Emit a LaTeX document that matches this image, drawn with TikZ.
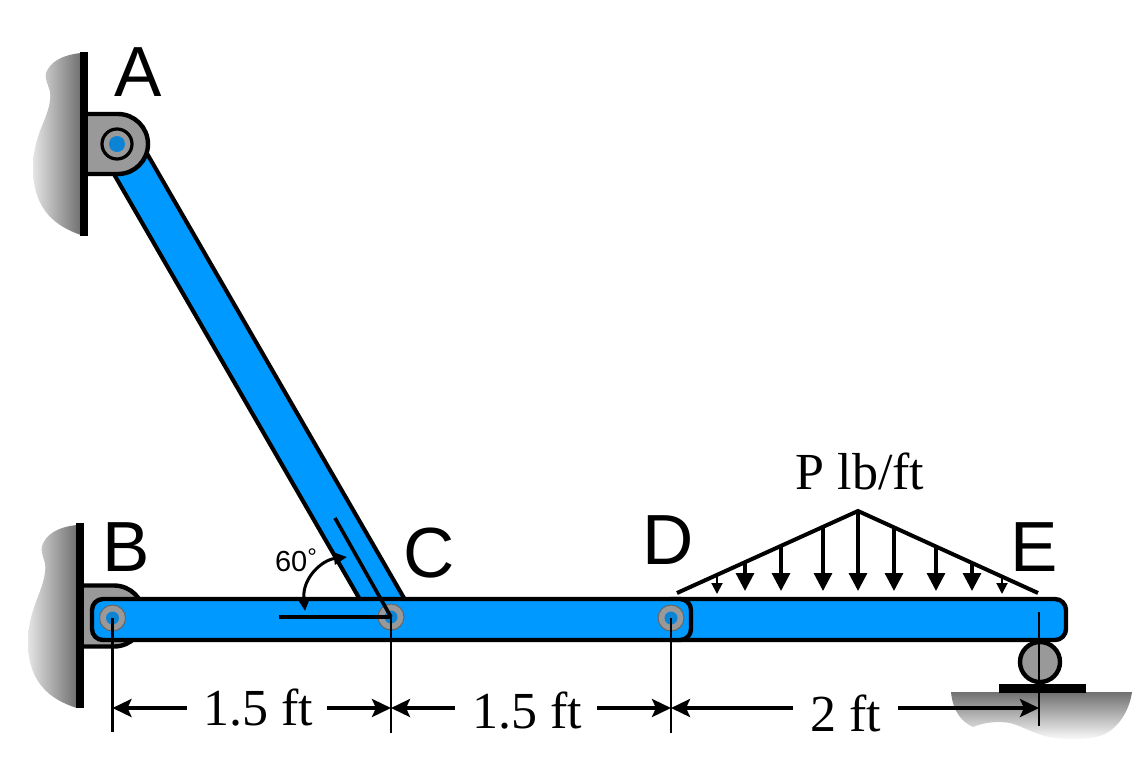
\documentclass[tikz,border=0pt]{standalone}
\usepackage{fontspec}
\setmainfont{Liberation Serif}
\newfontfamily\arialfont{Liberation Sans}
\usetikzlibrary{arrows.meta,calc}
\definecolor{linkblue}{HTML}{0099FF}
\definecolor{pinblue}{HTML}{0C84D6}
\definecolor{partgray}{HTML}{999999}
\definecolor{walldark}{HTML}{707070}
\definecolor{walllight}{HTML}{E4E4E4}
\tikzset{
  wallshade/.style={left color=walllight,right color=walldark,draw=none},
  groundshade/.style={top color=walldark,bottom color=white,draw=none},
  wallbar/.style={fill=black,draw=none},
  bracket/.style={fill=partgray,draw=black,line width=4.4pt,rounded corners=30pt},
  beam/.style={fill=linkblue,draw=black,line width=4.4pt,rounded corners=11pt},
  pinouter/.style={circle,minimum size=26pt,inner sep=0pt,fill=partgray,draw=black!60,line width=1pt},
  pinblack/.style={circle,minimum size=30pt,inner sep=0pt,fill=partgray,draw=black,line width=3.2pt},
  pindot/.style={circle,minimum size=13pt,inner sep=0pt,fill=pinblue,draw=none},
  tick/.style={draw=black,line width=2.2pt},
  refline/.style={draw=black,line width=3.6pt},
  dimarrow/.style={draw=black,line width=3.6pt,-{Stealth[length=19pt,width=18pt,inset=4pt]}},
  loadline/.style={draw=black,line width=4pt},
  loadbig/.style={draw=black,line width=3.2pt,-{Triangle[length=18pt,width=18pt]}},
  loadsmall/.style={draw=black,line width=2pt,-{Triangle[length=11pt,width=11pt]}},
  anglearc/.style={draw=black,line width=3pt,{Triangle[length=13pt,width=12pt]}-{Triangle[length=13pt,width=12pt]}},
  bigletter/.style={font=\arialfont\fontsize{71}{71}\selectfont,inner sep=0pt,anchor=base},
  dimtext/.style={font=\fontsize{52}{52}\selectfont,inner sep=0pt,anchor=base},
  smalltext/.style={font=\arialfont\fontsize{29}{29}\selectfont,inner sep=0pt,anchor=base}
}
\begin{document}
\begin{tikzpicture}[x=1pt,y=-1pt]
\useasboundingbox (0,0) rectangle (1148,774);
\fill[white] (0,0) rectangle (1148,774);
% key points
\coordinate (A) at (117,144);
\coordinate (B) at (112.5,618);
\coordinate (C) at (391,617);
\coordinate (D) at (671,618);
\coordinate (E) at (1039,618);
\coordinate (linkA) at (119,144);
\coordinate (linkC) at (392.5,617);
% walls
\path[wallshade] (81,53) .. controls (62,55) and (50,62) .. (46,73) .. controls (44,82) and (52,88) .. (50,100) .. controls (48,120) and (33,135) .. (33,168) .. controls (33,195) and (42,222) .. (81,235) -- cycle;
\path[wallshade] (77,525) .. controls (58,527) and (46,534) .. (42,546) .. controls (40,556) and (47,560) .. (45,572) .. controls (43,592) and (28,610) .. (28,642) .. controls (28,670) and (38,696) .. (77,708) -- cycle;
\path[groundshade] (951,692) .. controls (953,712) and (962,722) .. (973,727) .. controls (985,722) and (998,721) .. (1010,723) .. controls (1022,726) and (1030,732) .. (1045,736) .. controls (1060,740) and (1085,741) .. (1103,735) .. controls (1118,728) and (1129,712) .. (1132,692) -- cycle;
\path[wallbar] (79.5,52) rectangle (88,236);
\path[wallbar] (76,523) rectangle (84,708);
% bracket at B
\draw[bracket] (84,585.5) -- (144,585.5) -- (144,646.5) -- (84,646.5);
% link AC
\draw[black,line width=43pt] (linkA) -- (linkC);
\draw[linkblue,line width=34.5pt] (linkA) -- (linkC);
% bracket at A
\draw[bracket] (88,114) -- (148,114) -- (148,174) -- (88,174);
\node[pinblack] (pinA) at (A) {};
\node[pindot,minimum size=16pt] (dotA) at (A) {};
% roller and plate
\node[circle,minimum size=40pt,inner sep=0pt,fill=partgray,draw=black,line width=4.4pt] (roller) at (1040,662) {};
\path[wallbar] (999,684) rectangle (1086,693);
% beams
\draw[beam] (660,599) rectangle (1066,640);
\draw[beam] (92,599) rectangle (691,640);
% pins
\foreach \p in {B,C,D}{
  \node[pinouter] (pin\p) at (\p) {};
  \node[pindot] (dot\p) at (\p) {};
}
% reference lines for the angle
\coordinate (hEnd) at (279,617);
\coordinate (iEnd) at (335,518);
\draw[refline] (hEnd) -- (C);
\draw[refline] (iEnd) -- (C);
\coordinate (arcT) at (347,557);
\coordinate (arcB) at (305,611);
\draw[anglearc] (arcT) .. controls (322,560) and (302,578) .. (arcB);
% dimension ticks
\coordinate (Bt) at (112.5,732);
\coordinate (Ct) at (391,733);
\coordinate (Dt) at (671,733);
\coordinate (Et) at (1039,726);
\coordinate (Es) at (1039,612);
\draw[tick] (B) -- (Bt);
\draw[tick] (C) -- (Ct);
\draw[tick] (D) -- (Dt);
\draw[tick] (Es) -- (Et);
% dimension arrows
\coordinate (dB) at (112.5,708); \coordinate (dC) at (391,708);
\coordinate (dD) at (671,708); \coordinate (dE) at (1039,708);
\coordinate (d1) at (187,708); \coordinate (d2) at (327,708);
\coordinate (d3) at (455,708); \coordinate (d4) at (597,708);
\coordinate (d5) at (793,708); \coordinate (d6) at (898,708);
\draw[dimarrow] (d1) -- (dB);
\draw[dimarrow] (d2) -- (dC);
\draw[dimarrow] (d3) -- (dC);
\draw[dimarrow] (d4) -- (dD);
\draw[dimarrow] (d5) -- (dD);
\draw[dimarrow] (d6) -- (dE);
% distributed load
\coordinate (LL) at (677,593);
\coordinate (LP) at (858,511);
\coordinate (LR) at (1038,593);
\draw[loadline,line join=miter] (LL) -- (LP) -- (LR);
\foreach \i/\x/\yt in {2/745/562,3/781/546,4/823/527,5/858/511,6/894/527,7/936/546,8/972/562}{
  \coordinate (lt\i) at (\x,\yt);
  \coordinate (lb\i) at (\x,591);
  \draw[loadbig] (lt\i) -- (lb\i);
}
\foreach \i/\x/\yt in {1/717/575,9/1002/576}{
  \coordinate (lt\i) at (\x,\yt);
  \coordinate (lb\i) at (\x,594);
  \draw[loadsmall] (lt\i) -- (lb\i);
}
% labels
\node[bigletter] (la) at (138,96) {A};
\node[bigletter] (lb) at (126,571) {B};
\node[bigletter] (lc) at (429,577) {C};
\node[bigletter] (ld) at (668,564) {D};
\node[bigletter] (le) at (1034,571) {E};
\node[smalltext] (l60) at (296,571) {60\raisebox{6pt}{\fontsize{24}{24}\selectfont °}};
\node[dimtext] (t1) at (258,725) {1.5 ft};
\node[dimtext] (t2) at (527,728) {1.5 ft};
\node[dimtext] (t3) at (846,731) {2 ft};
\node[dimtext] (tp) at (860,489) {P lb/ft};
\end{tikzpicture}
\end{document}
